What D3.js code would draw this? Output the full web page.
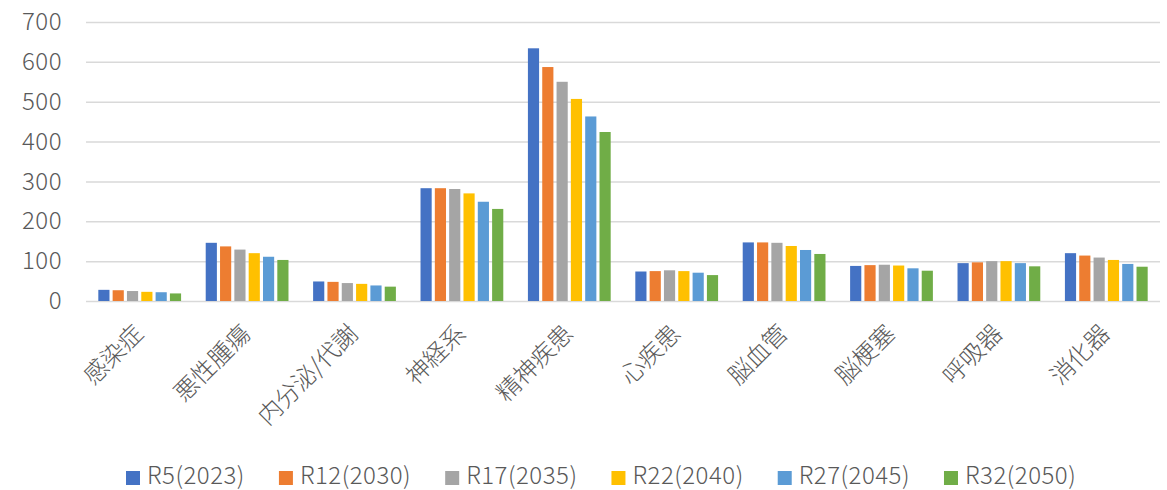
<!DOCTYPE html>
<html>
<head>
<meta charset="utf-8">
<script src="https://cdn.jsdelivr.net/npm/d3@7"></script>
<style>
  html, body { margin: 0; padding: 0; background: #fff; }
  svg { display: block; }
  text { font-family: "Noto Sans CJK JP", "Noto Sans", sans-serif; font-weight: 300; fill: #595959; }
</style>
</head>
<body>
<svg id="chart" width="1167" height="490"></svg>
<script>
// Disease categories along the x axis
const categories = ["感染症", "悪性腫瘍", "内分泌/代謝", "神経系", "精神疾患", "心疾患", "脳血管", "脳梗塞", "呼吸器", "消化器"];

// Series (year projections)
const seriesNames = ["R5(2023)", "R12(2030)", "R17(2035)", "R22(2040)", "R27(2045)", "R32(2050)"];
const seriesColors = ["#4472C4", "#ED7D31", "#A5A5A5", "#FFC000", "#5B9BD5", "#70AD47"];

// Values per series, one entry per category
const r5  = [28, 146, 49, 283, 634, 74, 147, 88, 95, 120];
const r12 = [27, 137, 48, 283, 587, 75, 147, 90, 97, 114];
const r17 = [25, 129, 45, 281, 550, 77, 146, 91, 100, 109];
const r22 = [23, 120, 43, 270, 507, 75, 138, 89, 100, 103];
const r27 = [22, 111, 39, 249, 463, 71, 128, 82, 95, 93];
const r32 = [19, 103, 36, 231, 424, 65, 118, 76, 87, 86];
const seriesValues = [r5, r12, r17, r22, r27, r32];

const yTicks = [0, 100, 200, 300, 400, 500, 600, 700];

const svg = d3.select("#chart");
const plot = { left: 86, right: 1160, top: 22, bottom: 301 };

const y = d3.scaleLinear().domain([0, 700]).range([plot.bottom, plot.top]);
const x0 = d3.scaleBand().domain(categories).range([plot.left, plot.right])
  .paddingInner(0.2).paddingOuter(0.1);
const x1 = d3.scaleBand().domain(seriesNames).range([0, x0.bandwidth()])
  .paddingInner(0.22).paddingOuter(0.11);

// Horizontal gridlines with value labels
const yAxis = d3.axisLeft(y).tickValues(yTicks)
  .tickSize(-(plot.right - plot.left)).tickPadding(24);
const gy = svg.append("g").attr("transform", `translate(${plot.left},0)`).call(yAxis);
gy.select(".domain").remove();
gy.selectAll(".tick line").attr("stroke", "#d9d9d9").attr("stroke-width", 1.5);
gy.selectAll(".tick text").attr("font-size", 24).attr("fill", "#595959")
  .style("font-family", "'Noto Sans CJK JP', 'Noto Sans', sans-serif")
  .style("font-weight", 300)
  .style("letter-spacing", "0.5px");

// Grouped bars
const groups = svg.append("g").selectAll("g")
  .data(categories)
  .join("g")
  .attr("transform", d => `translate(${x0(d)},0)`);

groups.selectAll("rect")
  .data((c, ci) => seriesNames.map((s, si) => ({ s, si, v: seriesValues[si][ci] })))
  .join("rect")
  .attr("x", d => x1(d.s))
  .attr("width", x1.bandwidth())
  .attr("y", d => y(d.v))
  .attr("height", d => y(0) - y(d.v))
  .attr("fill", d => seriesColors[d.si]);

// Category axis with rotated labels
const xAxis = d3.axisBottom(x0).tickSize(0).tickPadding(0);
const gx = svg.append("g").attr("transform", `translate(0,${plot.bottom})`).call(xAxis);
gx.select(".domain").remove();
gx.selectAll(".tick text")
  .attr("font-size", 24)
  .attr("fill", "#595959")
  .style("font-family", "'Noto Sans CJK JP', sans-serif")
  .style("font-weight", 300)
  .attr("text-anchor", "end")
  .attr("dy", 0)
  .attr("y", 0)
  .attr("transform", "translate(5,34) rotate(-45)");

// Legend
const legend = svg.append("g");
let lx = 126;
seriesNames.forEach((name, i) => {
  legend.append("rect")
    .attr("x", lx).attr("y", 471).attr("width", 14).attr("height", 14)
    .attr("fill", seriesColors[i]);
  const t = legend.append("text")
    .attr("x", lx + 21).attr("y", 484)
    .attr("font-size", 24)
    .style("letter-spacing", "0.5px")
    .text(name);
  lx += 21 + t.node().getComputedTextLength() + 34;
});
</script>
</body>
</html>
